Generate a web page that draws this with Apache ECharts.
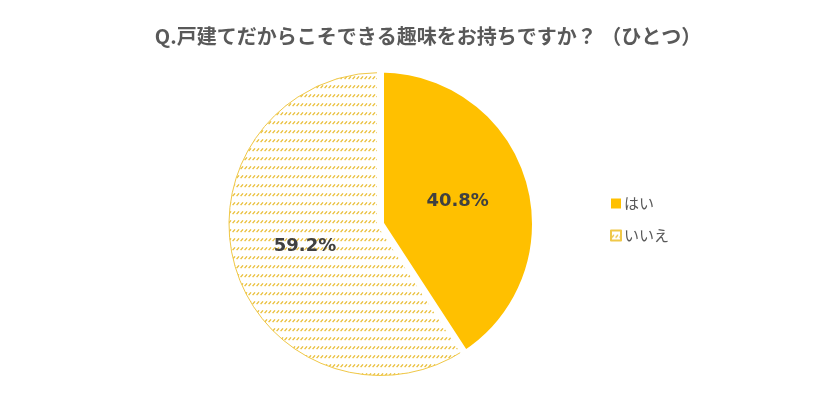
<!DOCTYPE html>
<html><head><meta charset="utf-8">
<script src="https://cdn.jsdelivr.net/npm/echarts@6/dist/echarts.min.js"></script>
<style>html,body{margin:0;padding:0;background:#fff}#c{width:840px;height:396px}</style>
</head><body><div id="c"></div>
<script>
const titleText = 'Q.戸建てだからこそできる趣味をお持ちですか？ （ひとつ）';
const categories = ['はい', 'いいえ'];
const values = [40.8, 59.2];

function makePattern() {
  const c = document.createElement('canvas');
  c.width = 4; c.height = 9;
  const g = c.getContext('2d');
  g.fillStyle = '#ffffff';
  g.fillRect(0, 0, 4, 9);
  g.strokeStyle = '#E9BE35';
  g.lineWidth = 1.3;
  g.beginPath();
  g.moveTo(0.6, 7.2);
  g.lineTo(3.0, 4.3);
  g.stroke();
  return c;
}
const pattern = makePattern();

const chart = echarts.init(document.getElementById('c'), null, {renderer: 'canvas'});
const fontFam = '"Noto Sans CJK JP", "Noto Sans", sans-serif';
const numFont = '"DejaVu Sans", Verdana, sans-serif';
const labelBase = {
  position: 'inside',
  formatter: p => p.value.toFixed(1) + '%',
  color: '#404040',
  fontSize: 18,
  fontWeight: 'bold',
  fontFamily: numFont
};

const baseData = categories.map((name, i) => ({
  name, value: values[i],
  itemStyle: i === 0
    ? {color: '#FFC000', borderWidth: 0}
    : {color: {image: pattern, repeat: 'repeat'}, borderColor: '#F0C848', borderWidth: 1},
  label: {show: i === 1}
}));
const topData = categories.map((name, i) => ({
  name, value: values[i],
  itemStyle: i === 0
    ? {color: '#FFC000', borderColor: '#ffffff', borderWidth: 7}
    : {color: 'rgba(0,0,0,0)', borderWidth: 0},
  label: {show: i === 0}
}));

chart.setOption({
  animation: false,
  backgroundColor: '#ffffff',
  title: {
    text: titleText,
    left: 423, top: 21, textAlign: 'center',
    textStyle: {color: '#595959', fontSize: 20, fontWeight: 'bold', fontFamily: fontFam}
  },
  legend: {
    orient: 'vertical',
    left: 605, top: 191,
    itemWidth: 10, itemHeight: 10, itemGap: 17,
    icon: 'rect',
    textStyle: {color: '#595959', fontSize: 15, fontFamily: fontFam, padding: [0, 0, 0, -2]},
    data: categories
  },
  series: [{
    type: 'pie',
    center: [380.5, 224],
    radius: [0, 151.5],
    startAngle: 90,
    clockwise: true,
    label: labelBase,
    labelLine: {show: false},
    emphasis: {disabled: true},
    data: baseData
  }, {
    type: 'pie',
    center: [380.5, 224],
    radius: [0, 155],
    startAngle: 90,
    clockwise: true,
    label: labelBase,
    labelLine: {show: false},
    emphasis: {disabled: true},
    silent: true,
    data: topData
  }]
});
</script></body></html>
